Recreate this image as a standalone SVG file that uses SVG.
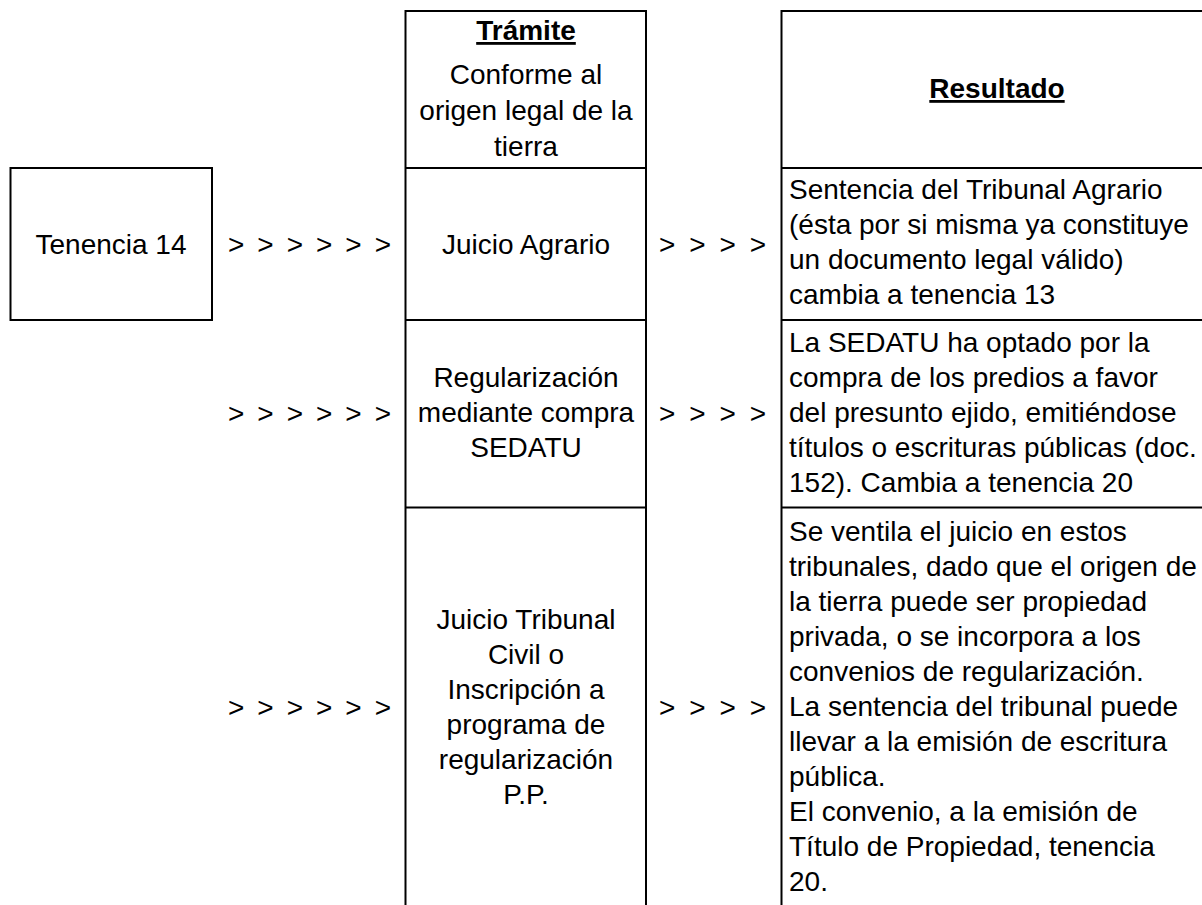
<svg xmlns="http://www.w3.org/2000/svg" width="1202" height="905" viewBox="0 0 1202 905">
<style>
text{font-family:"Liberation Sans",Arial,sans-serif;font-size:28px;fill:#000}
.c{text-anchor:middle}
.b{font-weight:bold;text-decoration:underline}
.ln{stroke:#000;stroke-width:2;fill:none}
</style>
<rect width="1202" height="905" fill="#fff"/>
<g id="tenencia14">
<rect class="ln" x="10.5" y="168" width="201.5" height="152"/>
<text class="c" x="111" y="254">Tenencia 14</text>
</g>
<g id="tramite-col">
<path class="ln" d="M405.5 905V11H646V905M405.5 168H646M405.5 320H646M405.5 507.5H646"/>
</g>
<g id="tramite-header">
<text class="c b" x="526" y="40">Trámite</text>
<text class="c" x="526" y="84">Conforme al</text>
<text class="c" x="526" y="120">origen legal de la</text>
<text class="c" x="526" y="156">tierra</text>
</g>
<g id="juicio-agrario">
<text class="c" x="526" y="254">Juicio Agrario</text>
</g>
<g id="regularizacion-sedatu">
<text class="c" x="526" y="387">Regularización</text>
<text class="c" x="526" y="422">mediante compra</text>
<text class="c" x="526" y="457">SEDATU</text>
</g>
<g id="juicio-civil">
<text class="c" x="526" y="629">Juicio Tribunal</text>
<text class="c" x="526" y="664">Civil o</text>
<text class="c" x="526" y="699">Inscripción a</text>
<text class="c" x="526" y="734">programa de</text>
<text class="c" x="526" y="769">regularización</text>
<text class="c" x="526" y="804">P.P.</text>
</g>
<g id="resultado-col">
<path class="ln" d="M781.5 905V11H1210M781.5 168H1210M781.5 320H1210M781.5 507.5H1210"/>
</g>
<g id="resultado-header">
<text class="c b" x="997" y="98">Resultado</text>
</g>
<g id="resultado-1">
<text x="789" y="199">Sentencia del Tribunal Agrario</text>
<text x="789" y="234">(ésta por si misma ya constituye</text>
<text x="789" y="269">un documento legal válido)</text>
<text x="789" y="304">cambia a tenencia 13</text>
</g>
<g id="resultado-2">
<text x="789" y="352">La SEDATU ha optado por la</text>
<text x="789" y="387">compra de los predios a favor</text>
<text x="789" y="422">del presunto ejido, emitiéndose</text>
<text x="789" y="457">títulos o escrituras públicas (doc.</text>
<text x="789" y="492">152). Cambia a tenencia 20</text>
</g>
<g id="resultado-3">
<text x="789" y="541">Se ventila el juicio en estos</text>
<text x="789" y="576">tribunales, dado que el origen de</text>
<text x="789" y="611">la tierra puede ser propiedad</text>
<text x="789" y="646">privada, o se incorpora a los</text>
<text x="789" y="681">convenios de regularización.</text>
<text x="789" y="716">La sentencia del tribunal puede</text>
<text x="789" y="751">llevar a la emisión de escritura</text>
<text x="789" y="786">pública.</text>
<text x="789" y="821">El convenio, a la emisión de</text>
<text x="789" y="856">Título de Propiedad, tenencia</text>
<text x="789" y="891">20.</text>
</g>
<g id="connectors">
<text x="228" y="254" textLength="163" lengthAdjust="spacing">&gt; &gt; &gt; &gt; &gt; &gt;</text>
<text x="228" y="423" textLength="163" lengthAdjust="spacing">&gt; &gt; &gt; &gt; &gt; &gt;</text>
<text x="228" y="717" textLength="163" lengthAdjust="spacing">&gt; &gt; &gt; &gt; &gt; &gt;</text>
<text x="659" y="254" textLength="107" lengthAdjust="spacing">&gt; &gt; &gt; &gt;</text>
<text x="659" y="423" textLength="107" lengthAdjust="spacing">&gt; &gt; &gt; &gt;</text>
<text x="659" y="717" textLength="107" lengthAdjust="spacing">&gt; &gt; &gt; &gt;</text>
</g>
</svg>
